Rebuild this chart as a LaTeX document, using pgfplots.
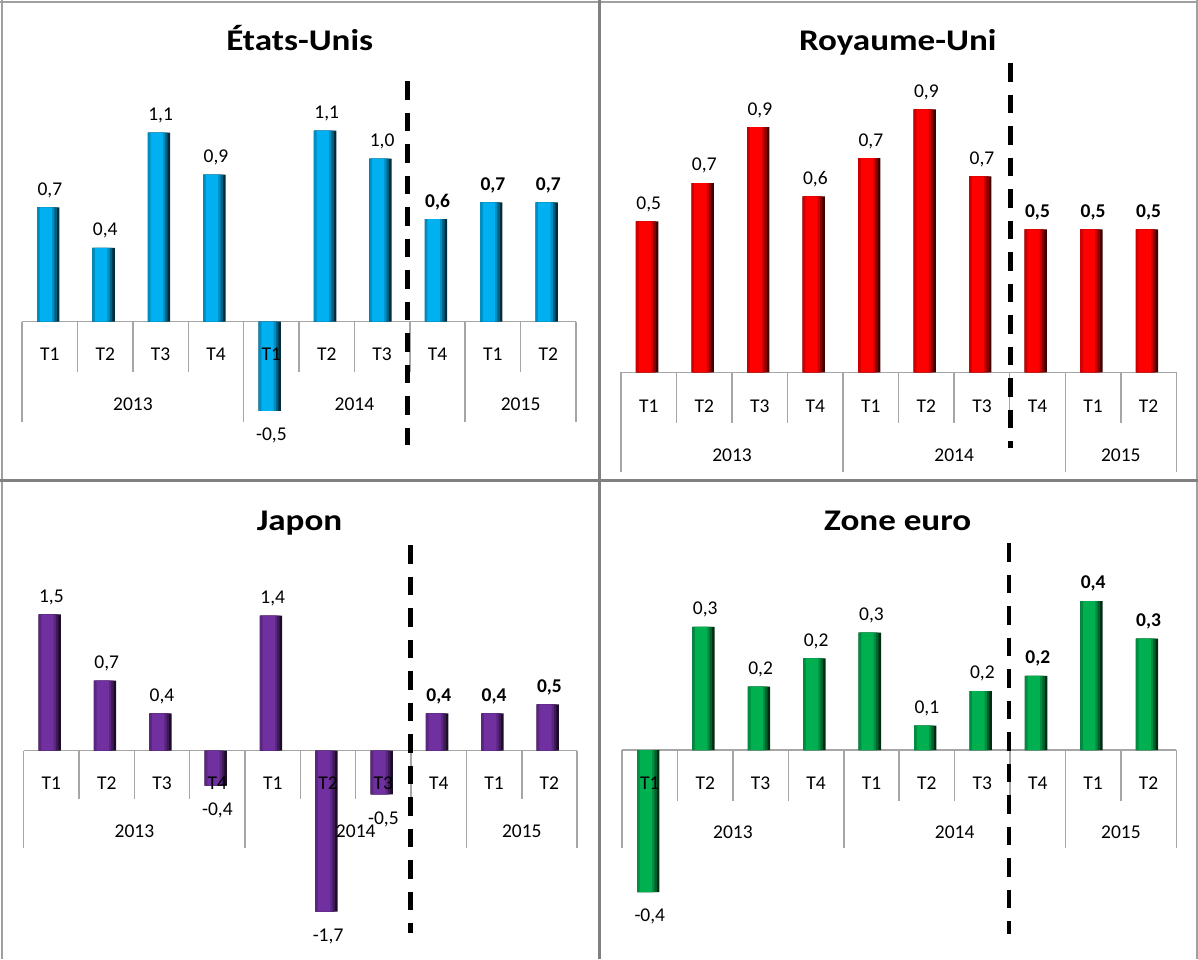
\documentclass[border=0pt]{standalone}
\usepackage{fontspec}
\setmainfont{Carlito}
\newfontfamily\ttlfont{Carlito}[FakeStretch=1.17]
\usepackage{pgfplots}
\usepackage{pgfplotstable}
\pgfplotsset{compat=1.18}
\definecolor{usc}{HTML}{00B0F0}
\definecolor{ukc}{HTML}{FF0000}
\definecolor{jpc}{HTML}{7030A0}
\definecolor{euc}{HTML}{00B050}
\definecolor{tblc}{HTML}{A6A6A6}
\definecolor{brd}{HTML}{A0A0A0}
\newcommand{\lblsize}{\fontsize{19.5}{19.5}\selectfont}

\pgfplotstableread{
x y l
0 0.68 0,7
1 0.44 0,4
2 1.125 1,1
3 0.875 0,9
4 -0.53 -0,5
5 1.137 1,1
6 0.97 1,0
7 0.61 {\textbf{0,6}}
8 0.71 {\textbf{0,7}}
9 0.71 {\textbf{0,7}}
}\tUS
\pgfplotstableread{
x y l
0 0.526 0,5
1 0.659 0,7
2 0.854 0,9
3 0.613 0,6
4 0.746 0,7
5 0.916 0,9
6 0.683 0,7
7 0.498 {\textbf{0,5}}
8 0.498 {\textbf{0,5}}
9 0.498 {\textbf{0,5}}
}\tUK
\pgfplotstableread{
x y l
0 1.456 1,5
1 0.748 0,7
2 0.399 0,4
3 -0.374 -0,4
4 1.442 1,4
5 -1.72 -1,7
6 -0.467 -0,5
7 0.399 {\textbf{0,4}}
8 0.399 {\textbf{0,4}}
9 0.495 {\textbf{0,5}}
}\tJP
\pgfplotstableread{
x y l
0 -0.374 -0,4
1 0.324 0,3
2 0.167 0,2
3 0.241 0,2
4 0.309 0,3
5 0.064 0,1
6 0.155 0,2
7 0.195 {\textbf{0,2}}
8 0.392 {\textbf{0,4}}
9 0.293 {\textbf{0,3}}
}\tEU

\pgfplotsset{
  panel/.style={hide axis, clip=false, anchor=south west, xmin=-0.5, xmax=9.5,
    enlargelimits=false},
  lay/.style n args={3}{ybar, bar width=#2pt, bar shift=#3pt, draw=none, fill=#1},
  lblplot/.style={ybar, bar width=0pt, bar shift=-1.5pt, draw=none, fill=none,
    nodes near coords, point meta=explicit symbolic,
    nodes near coords style={font=\lblsize, inner sep=0pt, text=black}},
}
\newcommand{\panelbars}[2]{%
  \addplot[lay={#2!25!black}{22.3}{-1.65}] table[x=x, y=y] {#1};
  \addplot[lay={#2!55!black}{19.8}{-2.9}] table[x=x, y=y] {#1};
  \addplot[lay={#2!80!black}{17.3}{-4.15}] table[x=x, y=y] {#1};
  \addplot[lay={#2}{12.3}{-3.95}] table[x=x, y=y] {#1};
  \addplot[lblplot, restrict y to domain=0:100,
     nodes near coords style={anchor=south, text depth=12pt}] table[x=x, y=y, meta=l] {#1};
}
\newcommand{\negbars}[1]{%
  \addplot[lblplot, restrict y to domain=-100:0,
     nodes near coords style={anchor=north, text height=29.5pt}] table[x=x, y=y, meta=l] {#1};
}
\newcommand{\cattable}[5]{%
  \draw[tblc, line width=1.5pt] (#1,#3) -- ({#1+10*#2},#3);
  \foreach \k in {0,...,10} \draw[tblc, line width=1.5pt] ({#1+\k*#2},#3) -- ({#1+\k*#2},#4);
  \foreach \k in {0,4,8,10} \draw[tblc, line width=1.5pt] ({#1+\k*#2},#3) -- ({#1+\k*#2},#5);
}
\newcommand{\catlabels}[4]{%
  \foreach \k/\t in {0/T1,1/T2,2/T3,3/T4,4/T1,5/T2,6/T3,7/T4,8/T1,9/T2}
    \node[font=\lblsize, inner sep=0pt] at ({#1+(\k+0.5)*#2},#3) {\t};
  \foreach \k/\t in {2/2013,6/2014,9/2015}
    \node[font=\lblsize, inner sep=0pt] at ({#1+\k*#2},#4) {\t};
}
\begin{document}
\begin{tikzpicture}
\begin{scope}[x=1pt, y=-1pt]
  \path[use as bounding box] (0,0) rectangle (1198,959);
  \draw[brd, line width=2pt] (0,1.5) -- (1198,1.5);
  \draw[brd, line width=2pt] (1.5,0) -- (1.5,959);
  \draw[brd, line width=1.5pt] (1197,0) -- (1197,959);
  \draw[gray, line width=3pt] (599.5,0) -- (599.5,959);
  \draw[gray, line width=3pt] (0,480.5) -- (1198,480.5);
  \cattable{22.2}{55.38}{321.7}{371.7}{421.7}
  \cattable{621}{55.53}{372.3}{422.7}{471.7}
  \cattable{23.7}{55.34}{750.7}{799.3}{848.3}
  \cattable{622.1}{55.42}{750}{800.7}{848.3}
\end{scope}

% Etats-Unis
\begin{axis}[panel, at={(22.2pt,-338.5pt)}, x=55.38pt, y=168pt, ymin=-0.1, ymax=1.2]
\panelbars{\tUS}{usc}
\negbars{\tUS}
\end{axis}

% Royaume-Uni
\begin{axis}[panel, at={(621pt,-401pt)}, x=55.53pt, y=287pt, ymin=-0.1, ymax=1.0]
\panelbars{\tUK}{ukc}
\end{axis}

% Japon
\begin{axis}[panel, at={(23.7pt,-760.06pt)}, x=55.34pt, y=93.6pt, ymin=-0.1, ymax=1.6]
\panelbars{\tJP}{jpc}
\negbars{\tJP}
\end{axis}

% Zone euro
\begin{axis}[panel, at={(622.1pt,-788pt)}, x=55.42pt, y=380pt, ymin=-0.1, ymax=0.45]
\panelbars{\tEU}{euc}
\negbars{\tEU}
\end{axis}

\begin{scope}[x=1pt, y=-1pt]
  \catlabels{22.2}{55.38}{354}{404}
  \catlabels{621}{55.53}{406}{455}
  \catlabels{23.7}{55.34}{783.3}{831.7}
  \catlabels{622.1}{55.42}{783.3}{832.7}
  \tikzset{dsh/.style={black, line width=4.5pt, dash pattern=on 18.5pt off 13pt}}
  \draw[dsh] (407.6,81) -- (407.6,445);
  \draw[dsh] (1010.3,63) -- (1010.3,448);
  \draw[dsh] (410.6,545) -- (410.6,933);
  \draw[dsh] (1009.2,543) -- (1009.2,934);
  \tikzset{ttl/.style={font=\ttlfont\bfseries\fontsize{30}{30}\selectfont, anchor=base, inner sep=0pt}}
  \node[ttl] at (299.7,50) {États-Unis};
  \node[ttl] at (897.7,50) {Royaume-Uni};
  \node[ttl] at (299.5,530) {Japon};
  \node[ttl] at (897.7,530) {Zone euro};
\end{scope}
\end{tikzpicture}
\end{document}
